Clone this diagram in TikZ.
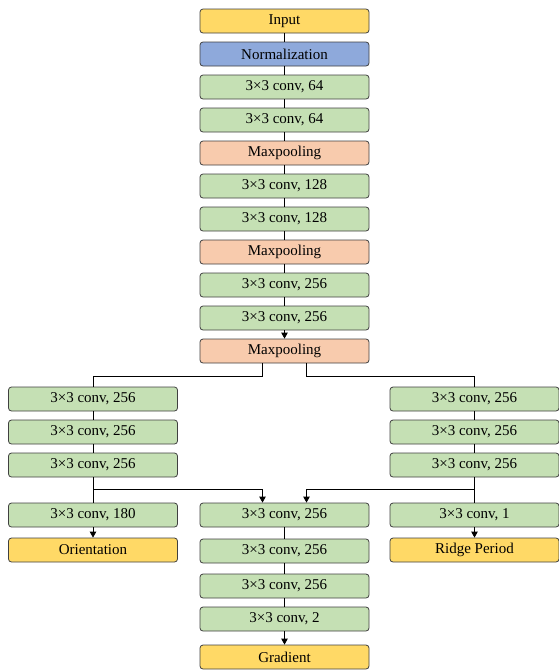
\documentclass[tikz,border=0pt]{standalone}
\usepackage{fontspec}
\setmainfont{Liberation Serif}
\usetikzlibrary{arrows.meta}
\definecolor{cyel}{HTML}{FFD966}
\definecolor{cblue}{HTML}{8EA9DB}
\definecolor{cgreen}{HTML}{C5E0B4}
\definecolor{corange}{HTML}{F8CBAD}
\begin{document}
\begin{tikzpicture}[x=1pt,y=-1pt,
  blk/.style={draw=black!75, rounded corners=3pt, line width=0.8pt, minimum width=169pt, minimum height=24pt, inner sep=0pt, font=\fontsize{15}{18}\selectfont},
  conv/.style={blk, fill=cgreen},
  outp/.style={blk, fill=cyel},
  pool/.style={blk, fill=corange},
  normb/.style={blk, fill=cblue},
  ln/.style={line width=0.8pt, draw=black},
  arr/.style={ln, -{Triangle[length=6pt,width=6.5pt]}}]
\useasboundingbox (0,0) rectangle (558,670);
% center column
\node[outp]  (in)  at (284.5,21)  {Input};
\node[normb] (nm)  at (284.5,54)  {Normalization};
\node[conv]  (a1)  at (284.5,87)  {3×3 conv, 64};
\node[conv]  (a2)  at (284.5,120) {3×3 conv, 64};
\node[pool]  (p1)  at (284.5,153) {Maxpooling};
\node[conv]  (b1)  at (284.5,186) {3×3 conv, 128};
\node[conv]  (b2)  at (284.5,219) {3×3 conv, 128};
\node[pool]  (p2)  at (284.5,252) {Maxpooling};
\node[conv]  (d1)  at (284.5,285) {3×3 conv, 256};
\node[conv]  (d2)  at (284.5,318) {3×3 conv, 256};
\node[pool]  (p3)  at (284.5,351) {Maxpooling};
% left branch
\node[conv] (l1) at (93,399) {3×3 conv, 256};
\node[conv] (l2) at (93,432) {3×3 conv, 256};
\node[conv] (l3) at (93,465) {3×3 conv, 256};
\node[conv] (l4) at (93,515) {3×3 conv, 180};
\node[outp] (lo) at (93,550) {Orientation};
% right branch
\node[conv] (r1) at (474.5,399) {3×3 conv, 256};
\node[conv] (r2) at (474.5,432) {3×3 conv, 256};
\node[conv] (r3) at (474.5,465) {3×3 conv, 256};
\node[conv] (r4) at (474.5,515) {3×3 conv, 1};
\node[outp] (ro) at (474.5,550) {Ridge Period};
% center bottom
\node[conv] (c1) at (284.5,515) {3×3 conv, 256};
\node[conv] (c2) at (284.5,551) {3×3 conv, 256};
\node[conv] (c3) at (284.5,586) {3×3 conv, 256};
\node[conv] (c4) at (284.5,619) {3×3 conv, 2};
\node[outp] (co) at (284.5,657) {Gradient};
% connectors
\draw[ln] (in) -- (nm);
\draw[ln] (nm) -- (a1);
\draw[ln] (a1) -- (a2);
\draw[ln] (a2) -- (p1);
\draw[ln] (p1) -- (b1);
\draw[ln] (b1) -- (b2);
\draw[ln] (b2) -- (p2);
\draw[ln] (p2) -- (d1);
\draw[ln] (d1) -- (d2);
\draw[arr] (d2) -- (p3);
\draw[ln] ([xshift=-22pt]p3.south) -- ++(0,13) -| (l1.north);
\draw[ln] ([xshift=22pt]p3.south) -- ++(0,13) -| (r1.north);
\draw[ln] (l1) -- (l2);
\draw[ln] (l2) -- (l3);
\draw[ln] (l3) -- (l4);
\draw[arr] (l4) -- (lo);
\draw[ln] (r1) -- (r2);
\draw[ln] (r2) -- (r3);
\draw[ln] (r3) -- (r4);
\draw[arr] (r4) -- (ro);
\coordinate (lj) at (93,489);
\coordinate (rj) at (474.5,489);
\draw[arr] (lj) -| ([xshift=-22pt]c1.north);
\draw[arr] (rj) -| ([xshift=22pt]c1.north);
\draw[ln] (c1) -- (c2);
\draw[ln] (c2) -- (c3);
\draw[ln] (c3) -- (c4);
\draw[arr] (c4) -- (co);
\end{tikzpicture}
\end{document}
